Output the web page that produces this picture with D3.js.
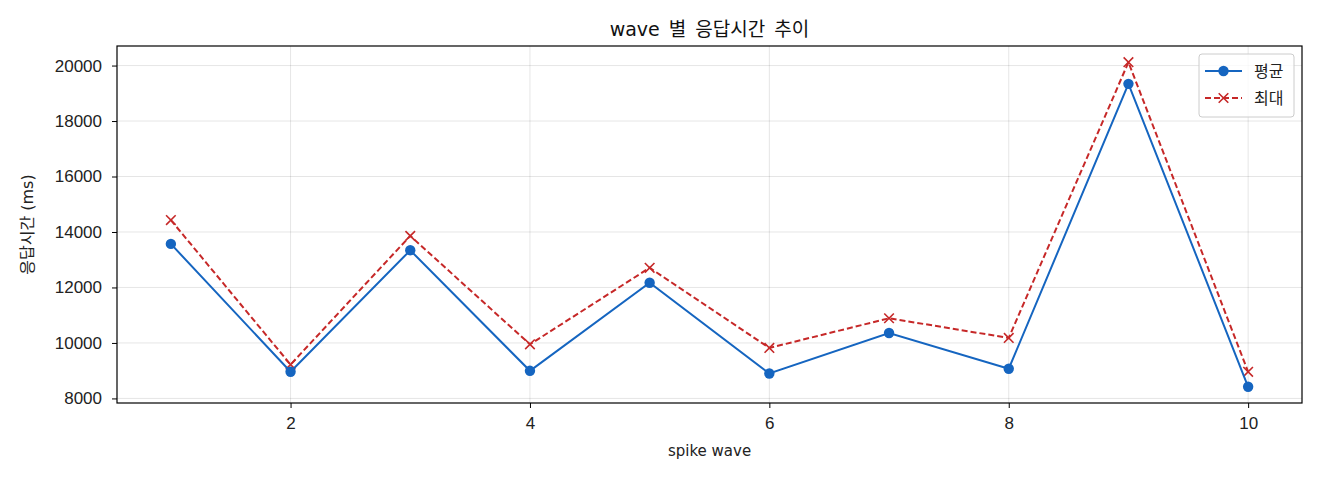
<!DOCTYPE html>
<html>
<head>
<meta charset="utf-8">
<script src="https://cdn.jsdelivr.net/npm/d3@7"></script>
<style>
  body { margin: 0; background: #fff; }
  svg { display: block; font-family: "DejaVu Sans", "Noto Sans CJK KR", sans-serif; }
</style>
</head>
<body>
<div id="chart"></div>
<script>
const width = 1320;
const height = 480;

// values
const waves = [1, 2, 3, 4, 5, 6, 7, 8, 9, 10];
const meanMs = [13570, 8960, 13340, 8995, 12170, 8900, 10360, 9070, 19340, 8420];
const maxMs = [14430, 9220, 13860, 9950, 12710, 9820, 10890, 10180, 20120, 8960];
const xTicks = [2, 4, 6, 8, 10];
const yTicks = [8000, 10000, 12000, 14000, 16000, 18000, 20000];

const series = [
    { name: '평균', values: meanMs, color: '#1565c0', dash: null, marker: 'circle' },
    { name: '최대', values: maxMs, color: '#c62828', dash: '6,3', marker: 'x' },
];

const margin = { top: 46, right: 18, bottom: 77, left: 117 };

const usableArea = {
    top: margin.top,
    right: width - margin.right,
    bottom: height - margin.bottom,
    left: margin.left,
};

const svg = d3.select('#chart').append('svg')
    .attr('width', width)
    .attr('height', height);

// matplotlib-like 5% padding on both axes
const [xMin, xMax] = d3.extent(waves);
const xPad = (xMax - xMin) * 0.05;
const allY = meanMs.concat(maxMs);
const [yMin, yMax] = d3.extent(allY);
const yPad = (yMax - yMin) * 0.05;

const xScale = d3.scaleLinear()
    .domain([xMin - xPad, xMax + xPad])
    .range([usableArea.left, usableArea.right]);

const yScale = d3.scaleLinear()
    .domain([yMin - yPad, yMax + yPad])
    .range([usableArea.bottom, usableArea.top]);

// gridlines
const grid = svg.append('g').attr('class', 'gridlines');
grid.selectAll('line.gx')
    .data(xTicks)
    .join('line')
    .attr('x1', d => xScale(d)).attr('x2', d => xScale(d))
    .attr('y1', usableArea.top).attr('y2', usableArea.bottom)
    .attr('stroke', '#000').attr('stroke-opacity', 0.1).attr('stroke-width', 1);
grid.selectAll('line.gy')
    .data(yTicks)
    .join('line')
    .attr('x1', usableArea.left).attr('x2', usableArea.right)
    .attr('y1', d => yScale(d)).attr('y2', d => yScale(d))
    .attr('stroke', '#000').attr('stroke-opacity', 0.1).attr('stroke-width', 1);

// axes
const xAxis = svg.append('g')
    .attr('transform', `translate(0, ${usableArea.bottom})`)
    .call(d3.axisBottom(xScale).tickValues(xTicks).tickSize(5).tickPadding(9).tickFormat(d3.format('d')));
const yAxis = svg.append('g')
    .attr('transform', `translate(${usableArea.left}, 0)`)
    .call(d3.axisLeft(yScale).tickValues(yTicks).tickSize(5).tickPadding(10).tickFormat(d3.format('d')));

[xAxis, yAxis].forEach(g => {
    g.select('.domain').remove();
    g.selectAll('.tick line').attr('stroke', '#000').attr('stroke-width', 1);
    g.selectAll('.tick text').attr('fill', '#222').style('font-size', '17px');
});

// frame
svg.append('rect')
    .attr('x', usableArea.left).attr('y', usableArea.top)
    .attr('width', usableArea.right - usableArea.left)
    .attr('height', usableArea.bottom - usableArea.top)
    .attr('fill', 'none').attr('stroke', '#000').attr('stroke-width', 1.2);

// lines + markers
const line = d3.line()
    .x((d, i) => xScale(waves[i]))
    .y(d => yScale(d));

function drawMarker(g, type, color, cx, cy) {
    if (type === 'circle') {
        g.append('circle').attr('cx', cx).attr('cy', cy).attr('r', 5.2).attr('fill', color);
    } else {
        const s = 4.8;
        g.append('path')
            .attr('d', `M${cx - s},${cy - s}L${cx + s},${cy + s}M${cx - s},${cy + s}L${cx + s},${cy - s}`)
            .attr('stroke', color).attr('stroke-width', 1.6).attr('fill', 'none');
    }
}

series.slice().reverse().forEach(s => {
    const g = svg.append('g').attr('class', 'series');
    g.append('path')
        .datum(s.values)
        .attr('d', line)
        .attr('fill', 'none')
        .attr('stroke', s.color)
        .attr('stroke-width', 2)
        .attr('stroke-dasharray', s.dash);
    s.values.forEach((v, i) => drawMarker(g, s.marker, s.color, xScale(waves[i]), yScale(v)));
});

// legend
const legend = svg.append('g').attr('transform', `translate(${usableArea.right - 103}, ${usableArea.top + 8})`);
legend.append('rect')
    .attr('width', 95).attr('height', 63).attr('rx', 3)
    .attr('fill', '#fff').attr('fill-opacity', 0.8)
    .attr('stroke', '#ccc').attr('stroke-width', 1);
series.forEach((s, i) => {
    const y = 17 + i * 27;
    const lg = legend.append('g');
    lg.append('line')
        .attr('x1', 6).attr('x2', 43).attr('y1', y).attr('y2', y)
        .attr('stroke', s.color).attr('stroke-width', 2)
        .attr('stroke-dasharray', s.dash);
    drawMarker(lg, s.marker, s.color, 24.5, y);
    lg.append('text')
        .attr('x', 55).attr('y', y)
        .attr('dy', '0.35em')
        .style('font-size', '16px')
        .attr('fill', '#222')
        .text(s.name);
});

// titles
svg.append('text')
    .attr('x', (usableArea.left + usableArea.right) / 2)
    .attr('y', 29).attr('dy', '0.35em')
    .attr('text-anchor', 'middle')
    .style('font-size', '19px')
    .style('word-spacing', '3px')
    .attr('fill', '#111')
    .text('wave 별 응답시간 추이');

svg.append('text')
    .attr('x', (usableArea.left + usableArea.right) / 2)
    .attr('y', 451).attr('dy', '0.35em')
    .attr('text-anchor', 'middle')
    .style('font-size', '15px')
    .attr('fill', '#222')
    .text('spike wave');

svg.append('text')
    .attr('transform', `translate(27, ${(usableArea.top + usableArea.bottom) / 2}) rotate(-90)`)
    .attr('dy', '0.35em')
    .attr('text-anchor', 'middle')
    .style('font-size', '16px')
    .attr('fill', '#222')
    .text('응답시간 (ms)');
</script>
</body>
</html>
